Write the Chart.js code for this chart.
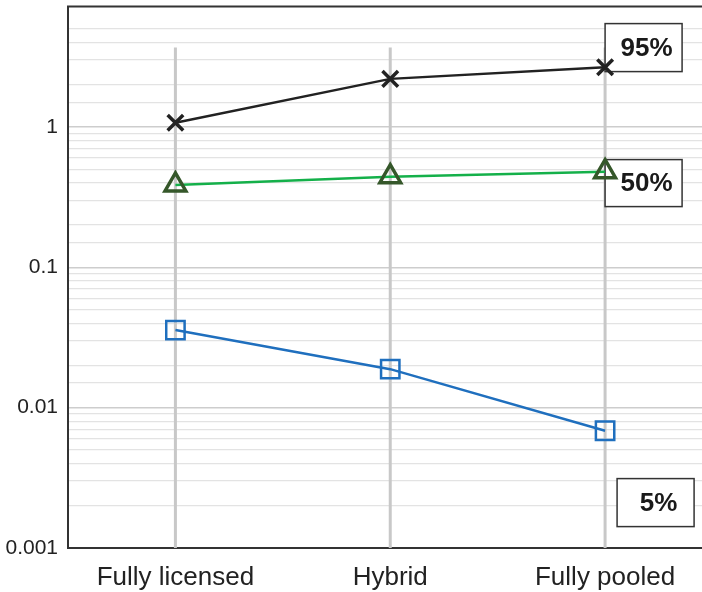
<!DOCTYPE html>
<html lang="en">
<head>
  <meta charset="UTF-8" />
  <title>Quantiles by licensing scheme</title>
  <script src="https://cdn.jsdelivr.net/npm/chart.js"></script>
  <style>
    html, body { margin: 0; padding: 0; background: #fff; overflow: hidden; }
    #wrap { position: relative; width: 702px; height: 592px; overflow: hidden; }
    #chart { position: absolute; left: 0; top: 0; }
  </style>
</head>
<body>
  <div id="wrap"><canvas id="chart" width="712" height="592"></canvas></div>
  <script>
    // data
    const categories = ['Fully licensed', 'Hybrid', 'Fully pooled'];
    const seriesLabels = ['95%', '50%', '5%'];
    const p95 = [1.07, 2.2, 2.66];
    const p50 = [0.386, 0.442, 0.48];
    const p05 = [0.0357, 0.0188, 0.00685];
    const yTickValues = [0.001, 0.01, 0.1, 1];
    const yTickLabels = ['0.001', '0.01', '0.1', '1'];

    const FONT = '"Liberation Sans", Arial, Helvetica, sans-serif';

    const isDecade = v => yTickValues.some(t => Math.abs(v - t) / t < 1e-6);

    const extras = {
      id: 'extras',
      beforeDatasetsDraw(chart) {
        const { ctx, chartArea: a, scales: { x } } = chart;
        ctx.save();
        // vertical category lines
        ctx.strokeStyle = '#c8c8c8';
        ctx.lineWidth = 3;
        categories.forEach((c, i) => {
          const px = x.getPixelForValue(i);
          ctx.beginPath();
          ctx.moveTo(px, a.top + 41);
          ctx.lineTo(px, a.bottom);
          ctx.stroke();
        });
        // top frame line
        ctx.strokeStyle = '#333';
        ctx.lineWidth = 2;
        ctx.beginPath();
        ctx.moveTo(a.left - 1, a.top);
        ctx.lineTo(a.right + 10, a.top);
        ctx.stroke();
        // series label boxes
        const xp = x.getPixelForValue(2);
        const boxes = [
          { dx: 0, top: 17, h: 48 },
          { dx: 0, top: 153, h: 47 },
          { dx: 12, top: 472, h: 48 }
        ];
        ctx.font = 'bold 26px ' + FONT;
        ctx.textAlign = 'center';
        ctx.textBaseline = 'middle';
        boxes.forEach((b, i) => {
          const bx = xp + b.dx, by = a.top + b.top, w = 77;
          ctx.fillStyle = '#fff';
          ctx.fillRect(bx, by, w, b.h);
          ctx.strokeStyle = '#333';
          ctx.lineWidth = 1.5;
          ctx.strokeRect(bx, by, w, b.h);
          ctx.fillStyle = '#1a1a1a';
          ctx.fillText(seriesLabels[i], bx + w / 2 + 3, by + b.h / 2 + 1);
        });
        ctx.restore();
      }
    };

    function config() {
      return {
        type: 'line',
        data: {
          labels: categories,
          datasets: [
            {
              label: seriesLabels[0], data: p95,
              borderColor: '#222', borderWidth: 2.5,
              pointStyle: 'crossRot', pointRadius: 11, pointBorderWidth: 3.5,
              pointBorderColor: '#222', pointBackgroundColor: 'transparent'
            },
            {
              label: seriesLabels[1], data: p50,
              borderColor: '#14b04a', borderWidth: 2.5,
              pointStyle: 'triangle', pointRadius: 12, pointBorderWidth: 3.5,
              pointBorderColor: '#35572a', pointBackgroundColor: 'transparent'
            },
            {
              label: seriesLabels[2], data: p05,
              borderColor: '#1f6fbe', borderWidth: 2.5,
              pointStyle: 'rect', pointRadius: 13, pointBorderWidth: 2.5,
              pointBorderColor: '#1f6fbe', pointBackgroundColor: 'transparent'
            }
          ]
        },
        options: {
          responsive: false,
          maintainAspectRatio: false,
          animation: false,
          layout: { padding: 0 },
          plugins: { legend: { display: false }, tooltip: { enabled: false } },
          scales: {
            x: {
              offset: true,
              grid: { color: 'transparent', drawTicks: false },
              border: { color: '#333', width: 2 },
              ticks: { color: '#222', padding: 14, font: { family: FONT, size: 26 } },
              afterFit(s) { s.height = 44; }
            },
            y: {
              type: 'logarithmic',
              min: 0.001,
              max: 7.2,
              grid: {
                drawTicks: false,
                color: c => c.tick.value > 5.5 ? 'transparent' : (isDecade(c.tick.value) ? '#cdcdcd' : '#e3e3e3'),
                lineWidth: c => isDecade(c.tick.value) ? 1.5 : 1.2
              },
              border: { color: '#333', width: 2 },
              ticks: {
                color: '#222', padding: 10,
                font: { family: FONT, size: 21 },
                autoSkip: false,
                callback: v => {
                  const i = yTickValues.findIndex(t => Math.abs(v - t) / t < 1e-6);
                  return i >= 0 ? yTickLabels[i] : '';
                }
              },
              afterFit(s) { s.width = 68; }
            }
          }
        },
        plugins: [extras]
      };
    }

    const canvas = document.getElementById('chart');
    let chart = new Chart(canvas, config());

    // place the plot frame where the reference has it
    const want = { left: 68, top: 7, right: 712, bottom: 548 };
    for (let k = 0; k < 3; k++) {
      const a = chart.chartArea;
      const w = Math.round(chart.width + (want.right - want.left) - (a.right - a.left));
      const h = Math.round(chart.height + (want.bottom - want.top) - (a.bottom - a.top));
      canvas.style.left = (want.left - a.left) + 'px';
      canvas.style.top = (want.top - a.top) + 'px';
      if (w === chart.width && h === chart.height) break;
      chart.destroy();
      canvas.width = w;
      canvas.height = h;
      chart = new Chart(canvas, config());
    }
  </script>
</body>
</html>
